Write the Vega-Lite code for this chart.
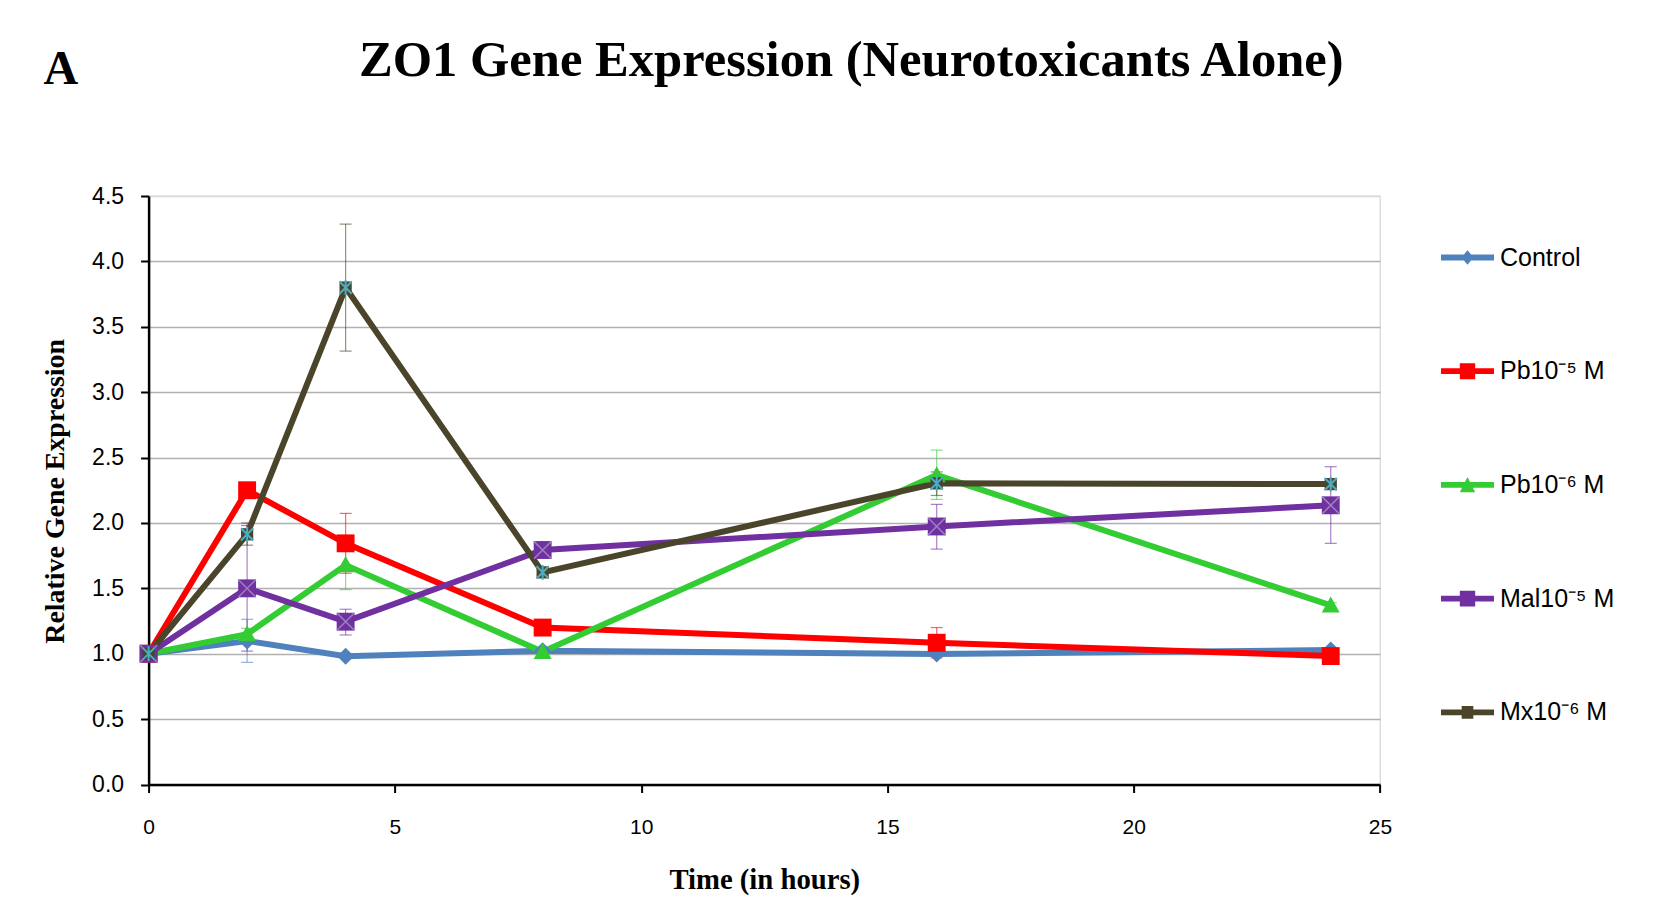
{
  "$schema": "https://vega.github.io/schema/vega-lite/v6.json",
  "width": 1231.4,
  "height": 588.5,
  "autosize": {"type": "none"},
  "padding": {"left": 148.6, "top": 196, "right": 296, "bottom": 136.5},
  "background": "white",
  "title": {
    "text": "ZO1 Gene Expression (Neurotoxicants Alone)",
    "font": "Liberation Serif",
    "fontSize": 50.6,
    "fontWeight": "bold",
    "color": "black",
    "anchor": "middle",
    "frame": "group",
    "baseline": "alphabetic",
    "dx": 87,
    "offset": -82
  },
  "config": {
    "view": {"stroke": "#D9D9D9", "strokeWidth": 1.3},
    "axis": {
      "labelFont": "Liberation Sans",
      "labelFontSize": 21,
      "labelColor": "black",
      "titleFont": "Liberation Serif",
      "titleFontWeight": "bold",
      "titleColor": "black"
    }
  },
  "datasets": {
    "expr": [
      {"series": "Control", "hours": 0, "expr": 1.0},
      {"series": "Control", "hours": 2, "expr": 1.098},
      {"series": "Control", "hours": 4, "expr": 0.98},
      {"series": "Control", "hours": 8, "expr": 1.023},
      {"series": "Control", "hours": 16, "expr": 0.998},
      {"series": "Control", "hours": 24, "expr": 1.028},
      {"series": "Pb10⁻⁵ M", "hours": 0, "expr": 1.0},
      {"series": "Pb10⁻⁵ M", "hours": 2, "expr": 2.25},
      {"series": "Pb10⁻⁵ M", "hours": 4, "expr": 1.844},
      {"series": "Pb10⁻⁵ M", "hours": 8, "expr": 1.2},
      {"series": "Pb10⁻⁵ M", "hours": 16, "expr": 1.084},
      {"series": "Pb10⁻⁵ M", "hours": 24, "expr": 0.982},
      {"series": "Pb10⁻⁶ M", "hours": 0, "expr": 1.0},
      {"series": "Pb10⁻⁶ M", "hours": 2, "expr": 1.15},
      {"series": "Pb10⁻⁶ M", "hours": 4, "expr": 1.678},
      {"series": "Pb10⁻⁶ M", "hours": 8, "expr": 1.015},
      {"series": "Pb10⁻⁶ M", "hours": 16, "expr": 2.366},
      {"series": "Pb10⁻⁶ M", "hours": 24, "expr": 1.37},
      {"series": "Mal10⁻⁵ M", "hours": 0, "expr": 1.0},
      {"series": "Mal10⁻⁵ M", "hours": 2, "expr": 1.5},
      {"series": "Mal10⁻⁵ M", "hours": 4, "expr": 1.245},
      {"series": "Mal10⁻⁵ M", "hours": 8, "expr": 1.793},
      {"series": "Mal10⁻⁵ M", "hours": 16, "expr": 1.973},
      {"series": "Mal10⁻⁵ M", "hours": 24, "expr": 2.135},
      {"series": "Mx10⁻⁶ M", "hours": 0, "expr": 1.0},
      {"series": "Mx10⁻⁶ M", "hours": 2, "expr": 1.913},
      {"series": "Mx10⁻⁶ M", "hours": 4, "expr": 3.8},
      {"series": "Mx10⁻⁶ M", "hours": 8, "expr": 1.622},
      {"series": "Mx10⁻⁶ M", "hours": 16, "expr": 2.303},
      {"series": "Mx10⁻⁶ M", "hours": 24, "expr": 2.297}
    ],
    "errors": [
      {"series": "Control", "hours": 2, "lo": 0.934, "hi": 1.263},
      {"series": "Pb10⁻⁵ M", "hours": 4, "lo": 1.615, "hi": 2.073},
      {"series": "Pb10⁻⁵ M", "hours": 16, "lo": 0.968, "hi": 1.2},
      {"series": "Pb10⁻⁶ M", "hours": 2, "lo": 1.105, "hi": 1.194},
      {"series": "Pb10⁻⁶ M", "hours": 4, "lo": 1.49, "hi": 1.866},
      {"series": "Pb10⁻⁶ M", "hours": 16, "lo": 2.18, "hi": 2.557},
      {"series": "Pb10⁻⁶ M", "hours": 24, "lo": 1.35, "hi": 1.39},
      {"series": "Mal10⁻⁵ M", "hours": 2, "lo": 1.02, "hi": 1.98},
      {"series": "Mal10⁻⁵ M", "hours": 4, "lo": 1.143, "hi": 1.34},
      {"series": "Mal10⁻⁵ M", "hours": 16, "lo": 1.8, "hi": 2.142},
      {"series": "Mal10⁻⁵ M", "hours": 24, "lo": 1.844, "hi": 2.43},
      {"series": "Mx10⁻⁶ M", "hours": 2, "lo": 1.83, "hi": 2.0},
      {"series": "Mx10⁻⁶ M", "hours": 4, "lo": 3.314, "hi": 4.285},
      {"series": "Mx10⁻⁶ M", "hours": 16, "lo": 2.21, "hi": 2.39}
    ]
  },
  "resolve": {"axis": {"x": "independent"}},
  "layer": [
    {
      "data": {"name": "expr"},
      "mark": {"type": "line", "strokeWidth": 6, "strokeJoin": "miter"},
      "encoding": {
        "x": {
          "field": "hours",
          "type": "quantitative",
          "scale": {"domain": [0, 25], "nice": false, "zero": false},
          "axis": {
            "orient": "bottom",
            "title": "Time (in hours)",
            "values": [0, 5, 10, 15, 20, 25],
            "grid": false,
            "domainColor": "black",
            "domainWidth": 2.5,
            "tickColor": "black",
            "tickWidth": 2,
            "tickSize": 8,
            "labelPadding": 24,
            "labelFlush": false,
            "titleFontSize": 28.7,
            "titleX": 615.7,
            "titleY": 104,
            "titleAlign": "center",
            "titleBaseline": "alphabetic"
          }
        },
        "y": {
          "field": "expr",
          "type": "quantitative",
          "scale": {"domain": [0, 4.5], "nice": false},
          "axis": {
            "title": "Relative Gene Expression",
            "values": [0, 0.5, 1, 1.5, 2, 2.5, 3, 3.5, 4, 4.5],
            "format": ".1f",
            "grid": true,
            "gridColor": {"condition": {"test": "datum.value === 4.5", "value": "#D9D9D9"}, "value": "#B0B0B0"},
            "gridWidth": 1.3,
            "domainColor": "black",
            "domainWidth": 2.5,
            "tickColor": "black",
            "tickWidth": 2,
            "tickSize": 8,
            "labelPadding": 17,
            "labelFontSize": 23,
            "labelFlush": false,
            "titleFontSize": 27.9,
            "titleAngle": 270,
            "titleX": -85.3,
            "titleY": 294.8,
            "titleAlign": "center",
            "titleBaseline": "alphabetic"
          }
        },
        "color": {
          "field": "series",
          "type": "nominal",
          "scale": {
            "domain": ["Control", "Pb10⁻⁵ M", "Pb10⁻⁶ M", "Mal10⁻⁵ M", "Mx10⁻⁶ M"],
            "range": ["#4F81BD", "#FF0000", "#33CC33", "#7030A0", "#4A452A"]
          },
          "legend": {
            "orient": "none",
            "legendX": 1292.4,
            "legendY": 35,
            "title": null,
            "padding": 0,
            "rowPadding": 73.7,
            "labelOffset": 6,
            "labelFont": "Liberation Sans",
            "labelFontSize": 25,
            "labelColor": "black",
            "labelLimit": 400,
            "symbolSize": 2809,
            "symbolStrokeWidth": 0,
            "encode": {
              "symbols": {
                "update": {
                  "shape": {"signal": "['M-1,-0.11H1V0.11H-1Z M0,-0.27L0.23,0L0,0.27L-0.23,0Z', 'M-1,-0.11H1V0.11H-1Z M-0.29,-0.3H0.29V0.3H-0.29Z', 'M-1,-0.11H1V0.11H-1Z M0,-0.3L0.29,0.28H-0.29Z', 'M-1,-0.11H1V0.11H-1Z M-0.29,-0.3H0.29V0.3H-0.29Z', 'M-1,-0.11H1V0.11H-1Z M-0.22,-0.24H0.22V0.24H-0.22Z'][datum.index]"},
                  "fill": {"scale": "color", "field": "value"},
                  "stroke": {"value": "transparent"},
                  "opacity": {"value": 1}
                }
              }
            }
          }
        }
      }
    },
    {
      "data": {"name": "errors"},
      "mark": {"type": "rule", "strokeWidth": 1.2, "opacity": 0.6},
      "encoding": {
        "x": {
          "field": "hours",
          "type": "quantitative",
          "axis": {
            "orient": "top",
            "title": "A",
            "domain": false,
            "ticks": false,
            "labels": false,
            "grid": false,
            "titleFont": "Liberation Serif",
            "titleFontSize": 48,
            "titleAngle": 0,
            "titleAlign": "left",
            "titleBaseline": "alphabetic",
            "titleX": -105.6,
            "titleY": -113
          }
        },
        "y": {"field": "lo", "type": "quantitative"},
        "y2": {"field": "hi"},
        "color": {"field": "series", "type": "nominal", "legend": null}
      }
    },
    {
      "data": {"name": "errors"},
      "mark": {"type": "tick", "orient": "horizontal", "size": 12, "thickness": 1.2, "opacity": 0.6},
      "encoding": {
        "x": {"field": "hours", "type": "quantitative", "axis": null},
        "y": {"field": "lo", "type": "quantitative"},
        "color": {"field": "series", "type": "nominal", "legend": null}
      }
    },
    {
      "data": {"name": "errors"},
      "mark": {"type": "tick", "orient": "horizontal", "size": 12, "thickness": 1.2, "opacity": 0.6},
      "encoding": {
        "x": {"field": "hours", "type": "quantitative", "axis": null},
        "y": {"field": "hi", "type": "quantitative"},
        "color": {"field": "series", "type": "nominal", "legend": null}
      }
    },
    {
      "data": {"name": "expr"},
      "transform": [{"filter": "datum.series !== 'Mx10⁻⁶ M'"}],
      "mark": {"type": "point", "filled": true, "opacity": 1, "size": 320, "strokeWidth": 0},
      "encoding": {
        "x": {"field": "hours", "type": "quantitative", "axis": null},
        "y": {"field": "expr", "type": "quantitative"},
        "color": {"field": "series", "type": "nominal", "legend": null},
        "shape": {
          "field": "series",
          "type": "nominal",
          "scale": {
            "domain": ["Control", "Pb10⁻⁵ M", "Pb10⁻⁶ M", "Mal10⁻⁵ M"],
            "range": ["M0,-0.95L0.95,0L0,0.95L-0.95,0Z", "M-1,-1H1V1H-1Z", "M0,-1L1,0.8L-1,0.8Z", "M-1,-1H1V1H-1Z"]
          },
          "legend": null
        }
      }
    },
    {
      "data": {"name": "expr"},
      "transform": [{"filter": "datum.series === 'Mal10⁻⁵ M'"}],
      "mark": {"type": "point", "filled": false, "shape": "M-1,-1L1,1M1,-1L-1,1", "size": 300, "stroke": "#9A80BC", "strokeWidth": 1.5, "opacity": 1},
      "encoding": {
        "x": {"field": "hours", "type": "quantitative", "axis": null},
        "y": {"field": "expr", "type": "quantitative"}
      }
    },
    {
      "data": {"name": "expr"},
      "transform": [{"filter": "datum.series === 'Mx10⁻⁶ M'"}],
      "mark": {"type": "point", "filled": true, "shape": "square", "size": 150, "color": "#4A452A", "opacity": 1, "strokeWidth": 0},
      "encoding": {
        "x": {"field": "hours", "type": "quantitative", "axis": null},
        "y": {"field": "expr", "type": "quantitative"}
      }
    },
    {
      "data": {"name": "expr"},
      "transform": [{"filter": "datum.series === 'Mx10⁻⁶ M'"}],
      "mark": {"type": "point", "filled": false, "shape": "M-1,-1L1,1M1,-1L-1,1M0,-1.2L0,1.2", "size": 150, "stroke": "#4BACC6", "strokeWidth": 2, "opacity": 1},
      "encoding": {
        "x": {"field": "hours", "type": "quantitative", "axis": null},
        "y": {"field": "expr", "type": "quantitative"}
      }
    }
  ]
}
